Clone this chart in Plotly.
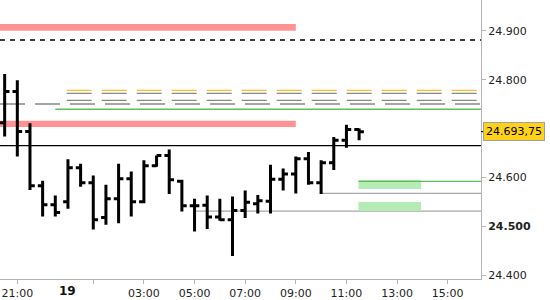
import plotly.graph_objects as go

# ---- data (30-minute bars) ----
bar_times = ["20:30", "21:00", "21:30", "22:00", "22:30",
             "00:00", "00:30", "01:00", "01:30", "02:00", "02:30", "03:00", "03:30",
             "04:00", "04:30", "05:00", "05:30", "06:00", "06:30", "07:00", "07:30",
             "08:00", "08:30", "09:00", "09:30", "10:00", "10:30", "11:00", "11:30"]
opens = [24712, 24776, 24694, 24583, 24544, 24550, 24620, 24589, 24518, 24556,
         24597, 24550, 24624, 24645, 24592, 24542, 24543, 24519, 24513, 24532,
         24546, 24551, 24596, 24607, 24638, 24589, 24630, 24676, 24698]
highs = [24812, 24799, 24711, 24593, 24563, 24637, 24628, 24604, 24585, 24628,
         24612, 24635, 24645, 24657, 24595, 24556, 24563, 24556, 24561, 24573,
         24564, 24626, 24618, 24643, 24652, 24635, 24683, 24708, 24700]
lows = [24684, 24643, 24574, 24520, 24520, 24536, 24581, 24493, 24503, 24506,
        24520, 24547, 24622, 24566, 24530, 24489, 24494, 24511, 24439, 24517,
        24526, 24526, 24573, 24567, 24585, 24566, 24615, 24661, 24676]
closes = [24776, 24694, 24583, 24544, 24528, 24620, 24589, 24513, 24556, 24597,
          24550, 24624, 24645, 24595, 24542, 24542, 24519, 24513, 24532, 24549,
          24552, 24596, 24607, 24638, 24589, 24630, 24676, 24698, 24693.75]
last_price = 24693.75
last_price_text = "24.693,75"

# x-axis ticks (bar-slot positions) and labels
x_tick_pos = [1, 7, 11, 15, 19, 23, 27, 31, 35]
x_tick_text = ["21:00", "", "03:00", "05:00", "07:00", "09:00", "11:00", "13:00", "15:00"]
day_label = "19"
day_label_pos = 5

# y-axis ticks
y_tick_vals = [24400, 24500, 24600, 24800, 24900]
y_tick_text = ["24.400", "<b>24.500</b>", "24.600", "24.800", "24.900"]

# levels
red_zone_lo = [24900.5, 24703.5]
red_zone_hi = [24914.5, 24716.0]
red_zone_end = 23
dashed_black_level = 24881.5
solid_black_level = 24665
orange_dash_levels = [24778.5]
gray_dash_levels = [24772.3, 24758.0]
upper_dash_start = 4.9
gray_dash_full_level = 24750.4
green_line_upper = 24739.6
green_line_upper_start = 4
gray_solid_levels = [24567.4, 24531.0]
gray_solid_starts = [25, 15]
green_box_lo = [24576.0, 24531.0]
green_box_hi = [24594.7, 24549.6]
green_box_x = [27.95, 32.9]
green_line_lower = 24592.0

x_range = [-0.368, 37.63]
y_range = [24391.8, 24963.5]

idx = list(range(len(opens)))

fig = go.Figure()
fig.add_trace(go.Ohlc(
    x=idx, open=opens, high=highs, low=lows, close=closes,
    text=bar_times, hoverinfo="skip",
    increasing=dict(line=dict(color="black", width=3)),
    decreasing=dict(line=dict(color="black", width=3)),
    tickwidth=0.38, showlegend=False,
))

shapes = []
xmin, xmax = x_range
for lo, hi in zip(red_zone_lo, red_zone_hi):
    shapes.append(dict(type="rect", xref="x", yref="y", x0=xmin, x1=red_zone_end,
                       y0=lo, y1=hi, fillcolor="#FF9292", line=dict(width=0), layer="below"))
shapes.append(dict(type="line", xref="x", yref="y", x0=xmin, x1=xmax,
                   y0=dashed_black_level, y1=dashed_black_level,
                   line=dict(color="black", width=1.5, dash="5px,5px"), layer="below"))
shapes.append(dict(type="line", xref="x", yref="y", x0=xmin, x1=xmax,
                   y0=solid_black_level, y1=solid_black_level,
                   line=dict(color="black", width=1.2), layer="below"))
for lv in orange_dash_levels:
    shapes.append(dict(type="line", xref="x", yref="y", x0=upper_dash_start, x1=xmax,
                       y0=lv, y1=lv, line=dict(color="#FFBB22", width=1.3, dash="25px,10px"),
                       layer="below"))
for lv in gray_dash_levels:
    shapes.append(dict(type="line", xref="x", yref="y", x0=upper_dash_start, x1=xmax,
                       y0=lv, y1=lv, line=dict(color="#888888", width=1.3, dash="25px,10px"),
                       layer="below"))
shapes.append(dict(type="line", xref="x", yref="y", x0=xmin, x1=xmax,
                   y0=gray_dash_full_level, y1=gray_dash_full_level,
                   line=dict(color="#888888", width=1.3, dash="25px,10px"), layer="below"))
shapes.append(dict(type="line", xref="x", yref="y", x0=green_line_upper_start, x1=xmax,
                   y0=green_line_upper, y1=green_line_upper,
                   line=dict(color="#5CBF5C", width=1.3), layer="below"))
for lv, st in zip(gray_solid_levels, gray_solid_starts):
    shapes.append(dict(type="line", xref="x", yref="y", x0=st, x1=xmax, y0=lv, y1=lv,
                       line=dict(color="#A8A8A8", width=1.3), layer="below"))
for lo, hi in zip(green_box_lo, green_box_hi):
    shapes.append(dict(type="rect", xref="x", yref="y", x0=green_box_x[0], x1=green_box_x[1],
                       y0=lo, y1=hi, fillcolor="#B5EBB5", line=dict(width=0), layer="below"))
shapes.append(dict(type="line", xref="x", yref="y", x0=green_box_x[0], x1=xmax,
                   y0=green_line_lower, y1=green_line_lower,
                   line=dict(color="#5CBF5C", width=1.3), layer="below"))
# price marker tick right of axis
shapes.append(dict(type="line", xref="paper", yref="y", x0=1.0, x1=1.011,
                   y0=last_price, y1=last_price, line=dict(color="black", width=1.2)))

font = dict(family="DejaVu Sans", size=11, color="#222222")

fig.update_layout(
    width=550, height=300,
    margin=dict(l=0, r=69, t=0, b=21),
    paper_bgcolor="white", plot_bgcolor="white",
    shapes=shapes,
    xaxis=dict(range=x_range, rangeslider=dict(visible=False), showgrid=False, zeroline=False,
               showline=True, linecolor="#B4B4B4", linewidth=1,
               ticks="outside", ticklen=4, tickcolor="#B4B4B4",
               tickvals=x_tick_pos, ticktext=x_tick_text, tickfont=font, fixedrange=True),
    yaxis=dict(range=y_range, side="right", showgrid=False, zeroline=False,
               showline=True, linecolor="#B4B4B4", linewidth=1,
               ticks="outside", ticklen=4, tickcolor="#B4B4B4",
               tickvals=y_tick_vals, ticktext=y_tick_text, tickfont=font, fixedrange=True),
    annotations=[
        dict(xref="x", yref="paper", x=day_label_pos, y=0, yanchor="middle", yshift=-12,
             text="<b>" + day_label + "</b>", showarrow=False,
             font=dict(family="DejaVu Sans", size=12, color="#111111")),
        dict(xref="paper", yref="y", x=1.0, y=last_price, xanchor="left", yanchor="middle",
             xshift=2, text=last_price_text, showarrow=False,
             font=dict(family="DejaVu Sans", size=11, color="black"),
             bgcolor="#FFD21A", bordercolor="#A0A0A0", borderwidth=1, borderpad=2),
    ],
)

fig.write_html("out.html")
